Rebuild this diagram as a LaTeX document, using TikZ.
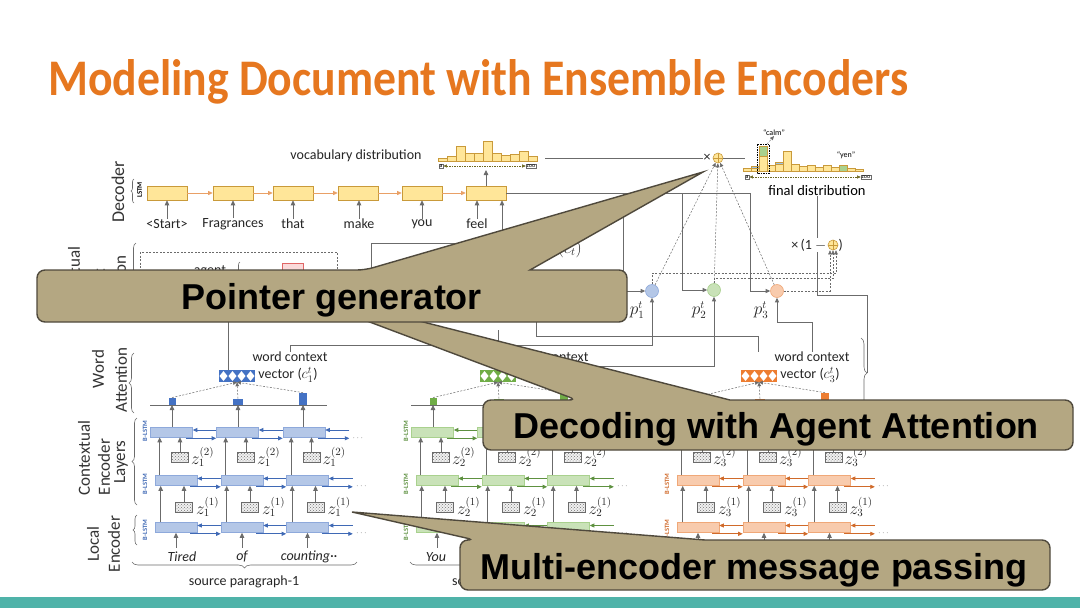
\documentclass[tikz,border=0pt]{standalone}
\usepackage{fontspec}
\setmainfont{Carlito}
\newfontfamily\callfont{Liberation Sans}
\usetikzlibrary{arrows.meta,patterns,calc,decorations.pathreplacing}
\definecolor{titleor}{HTML}{E6771F}
\definecolor{tealbar}{HTML}{4FB3A9}
\definecolor{khaki}{HTML}{B4A782}
\definecolor{khakid}{HTML}{4F493C}
\definecolor{decY}{HTML}{FFE699}
\definecolor{decYd}{HTML}{C99A3A}
\definecolor{decA}{HTML}{E9A066}
\definecolor{gA}{HTML}{6B6B6B}
\definecolor{bF}{HTML}{B4C7E7}\definecolor{bD}{HTML}{8EA9DB}\definecolor{bA}{HTML}{3F69B5}\definecolor{bV}{HTML}{4472C4}
\definecolor{gF}{HTML}{C9E2B8}\definecolor{gD}{HTML}{A9D18E}\definecolor{gAr}{HTML}{5E9140}\definecolor{gV}{HTML}{70AD47}
\definecolor{oF}{HTML}{F8CBAD}\definecolor{oD}{HTML}{F0A878}\definecolor{oA}{HTML}{D06A2A}\definecolor{oV}{HTML}{ED7D31}
\definecolor{pinkF}{HTML}{FADADA}\definecolor{pinkD}{HTML}{E06666}
\definecolor{barB}{HTML}{9DC3E6}\definecolor{barG}{HTML}{A9D18E}
\tikzset{
 lbl/.style={font=\fontsize{14}{16}\selectfont, inner sep=0pt, text=black!85},
 wlbl/.style={font=\fontsize{14}{16}\selectfont\itshape, inner sep=0pt, text=black!85},
 side/.style={font=\fontsize{17}{19}\selectfont, rotate=90, inner sep=0pt, text=black!80},
 zl/.style={font=\fontsize{16}{18}\selectfont, inner sep=0pt, text=black!85},
 decbox/.style={draw=decYd, fill=decY, minimum width=40pt, minimum height=14pt, inner sep=0pt, line width=0.6pt},
 ebox/.style={minimum width=42pt, minimum height=10pt, inner sep=0pt, line width=0.6pt},
 zbox/.style={draw=gA, preaction={fill=black!6}, pattern=crosshatch dots, pattern color=black!55, minimum width=17pt, minimum height=10pt, inner sep=0pt, line width=0.6pt},
 garr/.style={draw=gA, line width=0.8pt, -{Triangle[length=5pt,width=4.5pt]}},
 carr/.style={line width=0.8pt, -{Triangle[length=4.5pt,width=4pt]}},
 dasharr/.style={draw=gA, dash pattern=on 2pt off 1.5pt, line width=0.5pt, -{Triangle[length=4pt,width=3.5pt]}},
 wire/.style={draw=gA, line width=0.7pt},
 blstm/.style={rotate=90, font=\fontsize{6.5}{6.5}\selectfont\bfseries, inner sep=0pt},
 brc/.style={draw=gA, line width=0.6pt, decorate, decoration={brace, amplitude=#1}},
 brc/.default=5pt,
 dots/.style={font=\fontsize{9}{9}\selectfont, text=black!55, inner sep=0pt, anchor=west},
 asq/.style={anchor=south, inner sep=0pt, draw=none},
 vec/.style={minimum width=36pt, minimum height=12pt, inner sep=0pt, path picture={\foreach \j in {0,1,2,3}{\fill[white] ([xshift={4.5pt+9pt*\j}]path picture bounding box.west) +(-4pt,0) -- +(0,5pt) -- +(4pt,0) -- +(0,-5pt) -- cycle;}}},
 pcirc/.style={circle, minimum size=13pt, inner sep=0pt, line width=0.6pt},
 plus/.style={circle, draw=decYd, fill=decY, minimum size=10pt, inner sep=0pt, line width=0.6pt, path picture={\draw[decYd, line width=0.5pt] (path picture bounding box.north) -- (path picture bounding box.south) (path picture bounding box.west) -- (path picture bounding box.east);}},
 bar/.style={draw=decYd, fill=decY, line width=0.4pt},
 tinybox/.style={draw=gA, fill=white, font=\fontsize{6}{6}\selectfont, inner sep=0.8pt, line width=0.4pt},
 axisarr/.style={draw=olive!70!black, dash pattern=on 1.5pt off 1pt, line width=0.5pt, {Triangle[length=3.5pt,width=3pt]}-{Triangle[length=3.5pt,width=3pt]}},
 callout/.style={fill=khaki, draw=khakid, line width=1.4pt},
 calltext/.style={font=\callfont\bfseries\fontsize{36}{40}\selectfont, inner sep=0pt, text=black},
}
% encoder column: #1 dx, #2 tag, #3 fill, #4 draw, #5 arrow colour, #6 vector colour, #7 index
\newcommand\encol[7]{%
\begin{scope}[xshift=#1pt]
\foreach \k/\cx in {1/171.5,2/237.5,3/304}{\node[ebox,fill=#3,draw=#4] (#2t\k) at (\cx,432) {};}
\foreach \k/\cx in {1/176,2/242,3/307.5}{%
 \node[ebox,fill=#3,draw=#4] (#2m\k) at (\cx,480.5) {};
 \node[ebox,fill=#3,draw=#4] (#2b\k) at (\cx,527.5) {};
 \node[zbox] (#2y\k) at (\cx+4,457) {};
 \node[zbox] (#2x\k) at (\cx+8,507) {};
 \node[zl,anchor=west] at ([xshift=2pt]#2y\k.east) {$z_{#7}^{(2)}$};
 \node[zl,anchor=west] at ([xshift=3pt]#2x\k.east) {$z_{#7}^{(1)}$};
}
\foreach \r in {t,m,b}{%
 \foreach \k/\j in {1/2,2/3}{%
  \draw[carr,draw=#5] ([yshift=2pt]#2\r\j.west) -- ([yshift=2pt]#2\r\k.east);
  \draw[carr,draw=#5] ([xshift=-7pt,yshift=-1pt]#2\r\k.south east) -- ([yshift=-1pt]#2\r\j.south west);}
 \draw[carr,draw=#5] ([xshift=24pt,yshift=2pt]#2\r3.east) -- ([yshift=2pt]#2\r3.east);
 \draw[carr,draw=#5] ([xshift=-7pt,yshift=-1pt]#2\r3.south east) -- ([xshift=24pt,yshift=-1pt]#2\r3.south east);
 \node[dots] at ([xshift=27pt,yshift=-1pt]#2\r3.south east) {$\cdots$};
}
\foreach \k in {1,2,3}{%
 \draw[garr] ([yshift=-15pt]#2b\k.south) -- (#2b\k.south);
 \draw[garr] ([xshift=6pt]#2b\k.north west) -- ([xshift=6pt]#2m\k.south west);
 \draw[garr] (#2x\k.north) -- (#2x\k.north |- #2m\k.south);
 \draw[garr] ([xshift=5pt]#2m\k.north west) -- ([xshift=5pt]#2m\k.north west |- #2t\k.south);
 \draw[garr] (#2y\k.north) -- (#2y\k.north |- #2t\k.south);
}
\draw[wire] (150,405) -- (327,405);
\node[vec,fill=#6] (#2v) at (237,376) {};
\node[asq,fill=#6,minimum width=7pt,minimum height=7pt] (#2a1) at (172,405) {};
\node[asq,fill=#6,minimum width=10pt,minimum height=6pt] (#2a2) at (238,405) {};
\node[asq,fill=#6,minimum width=8pt,minimum height=12pt] (#2a3) at (303,405) {};
\foreach \k in {1,2,3}{%
 \draw[garr] (#2t\k.north -| #2a\k.south) -- (#2a\k.south);
 \draw[dasharr] (#2a\k.north) -- (#2v.south);
}
\node[lbl] (#2wc) at (290,357) {word context};
\node[lbl] (#2vl) at (288,375) {vector ($c_{#7}^{t}$)};
\node[blstm,text=#5] at (145,431) {B-LSTM};
\node[blstm,text=#5] at (145,484) {B-LSTM};
\node[blstm,text=#5] at (145,530) {B-LSTM};
\end{scope}}
% callout shape: #1 x0 #2 y0 #3 x1 #4 y1 #5 b1 #6 b2 #7 tipx #8 tipy
\newcommand\callshape[8]{%
\filldraw[callout] (#1,{(#2+#4)/2}) [rounded corners=8pt] -- (#1,#2) -- (#5,#2) [sharp corners] -- (#7,#8) -- (#6,#2) [rounded corners=8pt] -- (#3,#2) -- (#3,#4) -- (#1,#4) -- cycle;}
\begin{document}
\begin{tikzpicture}[x=1pt,y=-1pt]
\useasboundingbox (0,0) rectangle (1080,608);
\fill[white] (0,0) rectangle (1080,608);
\fill[tealbar] (0,597) rectangle (1080,608);
\node[anchor=base west, inner sep=0pt, text=titleor] (title) at (48,95) {\resizebox{860pt}{36pt}{\bfseries Modeling Document with Ensemble Encoders}};

% ---------- decoder ----------
\node[side, font=\fontsize{18}{20}\selectfont] (decl) at (118,192) {Decoder};
\node[rotate=90, font=\fontsize{7}{7}\selectfont\bfseries, inner sep=0pt] (lstm) at (139.5,190) {LSTM};
\draw[brc=3pt] (134,203) -- (134,179);
\foreach \i/\x in {1/167,2/233,3/293,4/358,5/422,6/486}{\node[decbox] (d\i) at (\x,193) {};}
\foreach \i/\j in {1/2,2/3,3/4,4/5,5/6}{\draw[carr,draw=decA] (d\i) -- (d\j);}
\node[lbl] (w1) at (167,224) {<Start>};
\node[lbl] (w2) at (233,224) {Fragrances};
\node[lbl] (w3) at (293,224) {that};
\node[lbl] (w4) at (359,224) {make};
\node[lbl] (w5) at (422,224) {you};
\node[lbl] (w6) at (477,224) {feel};
\foreach \i in {1,...,6}{\draw[garr] (w\i.north -| w\i) -- (w\i |- d\i.south);}
% vocabulary distribution
\node[lbl] (vocl) at (356,156) {vocabulary distribution};
\foreach \i/\h in {0/3,1/5,2/15,3/8,4/8,5/20,6/8,7/6,8/7,9/10,10/5}{\draw[bar] ({438+9*\i},161) rectangle ++(9,-\h);}
\node[tinybox] (va) at (441,166) {a};
\node[tinybox] (vz) at (531,166) {zoo};
\draw[axisarr] (va.east) -- (vz.west);
\coordinate (vh) at (486,170);
\draw[garr] (d6.north) -- (vh);
% x (+) and final distribution
\node[lbl] (times) at (707,158) {×};
\node[plus] (sum) at (718,158) {};
\coordinate (vhr) at (545,158);
\draw[wire] (vhr) -- (times.west);
\coordinate (fhl) at (745,158);
\draw[wire] (sum.east) -- (fhl);
\foreach \i/\h in {0/3,1/5,2/25,3/6,4/9,5/20,6/7,7/5,8/6,9/4,10/6,11/4,12/6,13/3,14/2}{\draw[bar] ({743+8*\i},171) rectangle ++(8,-\h);}
\draw[bar,fill=barB] (751,166) rectangle (759,168);
\draw[bar,fill=barG] (759,146) rectangle (767,156);
\draw[bar,fill=barB] (775,162) rectangle (783,164);
\draw[bar,fill=barG] (839,165) rectangle (847,171);
\draw[black, dash pattern=on 1.5pt off 1pt, line width=0.6pt] (757,144) rectangle (769,173);
\node[font=\fontsize{8}{8}\selectfont, inner sep=0pt] (calm) at (774,133) {“calm”};
\node[font=\fontsize{8}{8}\selectfont, inner sep=0pt] (yen) at (846,155) {“yen”};
\draw[dasharr, line width=0.4pt] (767,144) -- (calm.south);
\node[tinybox] (fa) at (747,177) {a};
\node[tinybox] (fz) at (866,177) {zoo};
\draw[axisarr] (fa.east) -- (fz.west);
\node[font=\fontsize{14.5}{16}\selectfont, inner sep=0pt] (fdl) at (817,191) {final distribution};

% ---------- generator / switches ----------
\node[pcirc, fill=bF, draw=bD] (p1) at (652,291) {};
\node[pcirc, fill=gF, draw=gD] (p2) at (714,290) {};
\node[pcirc, fill=oF, draw=oD] (p3) at (777,291) {};
\node[zl] at (637,310) {$p_1^t$};
\node[zl] at (699,310) {$p_2^t$};
\node[zl] at (761,310) {$p_3^t$};
\draw[wire] (d6.east) -- (750,193);
\coordinate (j1) at (623,193);
\coordinate (j2) at (682,193);
\coordinate (j3) at (750,193);
\draw[carr,draw=gA] (j1) |- (p1.west);
\draw[carr,draw=gA] (j2) |- (p2.west);
\draw[carr,draw=gA] (j3) |- (p3.west);
\draw[dasharr] (p1) -- (sum);
\draw[dasharr] (p2) -- (sum);
\draw[dasharr] (p3) -- (sum);
\node[plus] (sum2) at (833,245) {};
\draw[dasharr] (p1.north) |- ($(sum2.south)+(3,23)$) -- ($(sum2.south)+(3,0)$);
\draw[dasharr] (p2.north) |- ($(sum2.south)+(0,28)$) -- (sum2.south);
\draw[dasharr] (p3.east) -| ($(sum2.south)+(-3,0)$);
\coordinate (rb) at (867,373);
\draw[wire] (fdl.south) -- (817,295) -| (rb);
\draw[brc=6pt] (861,338) -- (861,408);
\node[lbl, fill=white, inner sep=1pt, anchor=east] (omt) at (827.5,245) {×\,(1 $-$};
\node[lbl, anchor=west] (rp) at (838.5,245) {)};

% ---------- contextual agent attention (mostly hidden) ----------
\node[side] (caa1) at (74,284) {Contextual};
\node[side] (caa2) at (101,289) {Agent};
\node[side] (caa3) at (120,288) {Attention};
\draw[brc] (136,320) -- (136,243);
\draw[gA, dash pattern=on 2pt off 1.5pt, line width=0.6pt] (140,252) rectangle (337,316);
\node[lbl] (agl) at (210,271) {agent};
\draw[brc=3pt] (240,300) -- (240,262);
\draw[pinkD, fill=pinkF, line width=0.6pt] (282,263) rectangle (303,290);
\draw[garr] (371,272) |- (502,243) -- ([xshift=16pt]d6.south);
\node[zl, anchor=east] (ctl) at (582,249) {$(c_t)$};

% ---------- encoders ----------
\encol{0}{A}{bF}{bD}{bA}{bV}{1}
\encol{261}{B}{gF}{gD}{gAr}{gV}{2}
\encol{522}{C}{oF}{oD}{oA}{oV}{3}
% side labels column 1
\node[side] (s1) at (98,369) {Word};
\node[side] (s2) at (121,380) {Attention};
\draw[brc] (134,413) -- (134,353);
\node[side] (s3) at (84,458) {Contextual};
\node[side] (s4) at (104,467) {Encoder};
\node[side] (s5) at (121,462) {Layers};
\draw[brc] (137,505) -- (137,418);
\node[side] (s6) at (93,544) {Local};
\node[side] (s7) at (114,544) {Encoder};
\draw[brc=4pt] (137,545) -- (137,515);
\node[wlbl] (tw1) at (182,557) {Tired};
\node[wlbl] (tw2) at (242,557) {of};
\node[wlbl] (tw3) at (309,557) {counting··};
\draw[brc=6pt] (357,562) -- (132,562);
\node[lbl] (sp1) at (244,582) {source paragraph-1};
\node[wlbl] (tw4) at (436,557) {You};
\draw[brc=6pt] (618,562) -- (410,562);
\node[lbl, anchor=west] (sp2) at (452,582) {source paragraph-2};
% word context wiring
\draw[wire] ([xshift=-9pt]Av.north) -- ++(0,-50);
\draw[wire] (Bv.north) -- ++(0,-40);
\draw[carr,draw=gA] (Awc.north) -- ++(0,-6) -| (p1.south);
\draw[wire] (536,322) |- (758,336) -- (758,352);
\draw[carr,draw=gA] ($(Bwc.east)+(7,9)$) -| (p2.south);
\draw[carr,draw=gA] (Cwc.north) -- ++(0,-29) -| (p3.south);

% ---------- callouts ----------
\callshape{483}{400}{1073}{450}{577}{730}{258}{280}
\node[calltext, anchor=base] (cdec) at (776,438) {Decoding with Agent Attention};
\callshape{460}{540}{1050}{590}{475}{705}{352}{512}
\node[calltext, anchor=base] (cmul) at (754,579) {Multi-encoder message passing};
\callshape{37}{270}{627}{322}{365}{530}{703}{172}
\node[calltext, anchor=base] (cptr) at (332,309) {Pointer generator};
\end{tikzpicture}
\end{document}
